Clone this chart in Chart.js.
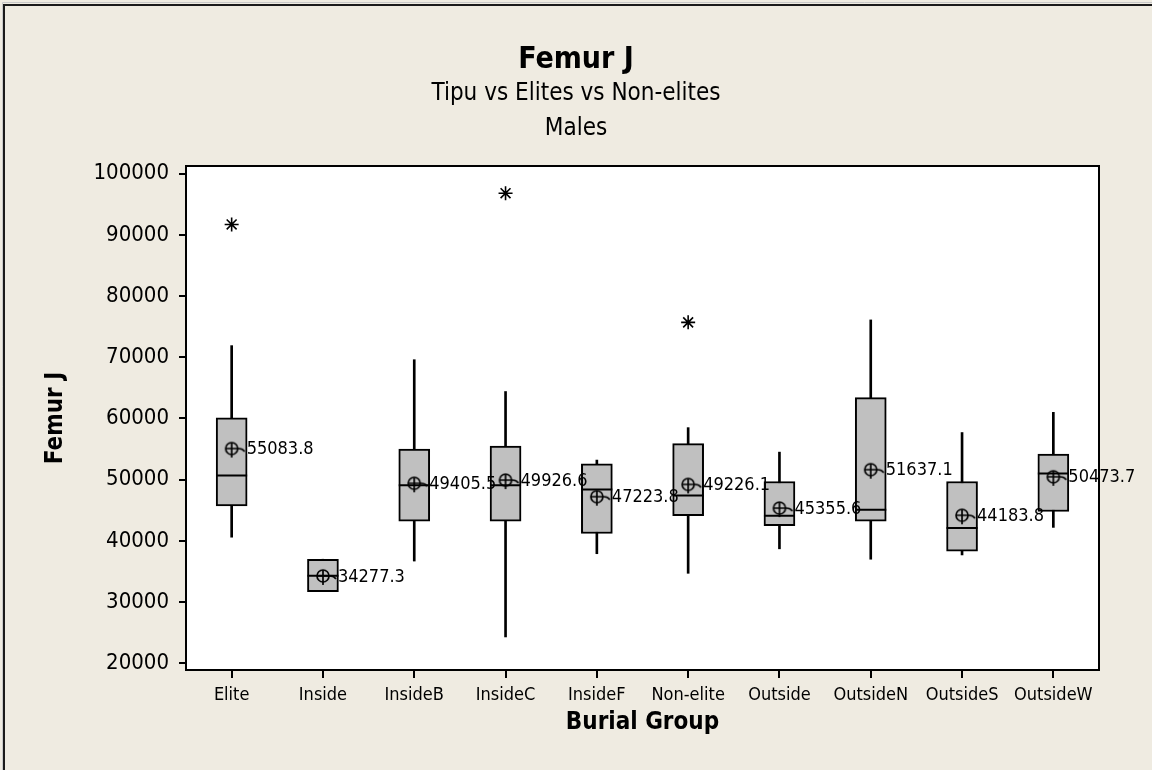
<!DOCTYPE html>
<html>
<head>
<meta charset="utf-8">
<script src="https://cdn.jsdelivr.net/npm/chart.js@4/dist/chart.umd.min.js"></script>
<style>
  html, body { margin: 0; padding: 0; background: #efebe1; }
  canvas { display: block; }
</style>
</head>
<body>
<canvas id="chart" width="1152" height="770"></canvas>
<script>
// values
const categories = ['Elite', 'Inside', 'InsideB', 'InsideC', 'InsideF', 'Non-elite', 'Outside', 'OutsideN', 'OutsideS', 'OutsideW'];
const whiskerLow  = [40600, 31700, 36700, 24300, 37900, 34700, 38700, 37000, 37700, 42200];
const q1          = [45700, 31700, 43200, 43200, 41200, 44100, 42500, 43200, 38300, 44800];
const medians     = [50700, 34300, 49100, 49100, 48400, 47400, 44100, 45100, 42100, 51000];
const q3          = [60100, 37000, 55000, 55500, 52600, 55900, 49700, 63400, 49700, 54200];
const whiskerHigh = [71900, 37000, 69600, 64400, 53200, 58500, 54500, 76100, 57700, 61000];
const means       = [55083.8, 34277.3, 49405.5, 49926.6, 47223.8, 49226.1, 45355.6, 51637.1, 44183.8, 50473.7];
const outliers    = [91700, null, null, 96800, null, 75700, null, null, null, null];
const yTicks      = [20000, 30000, 40000, 50000, 60000, 70000, 80000, 90000, 100000];
const yMin = 18900, yMax = 101250;

const FONT = '"DejaVu Sans Condensed", "DejaVu Sans", sans-serif';
Chart.defaults.color = '#000';
Chart.defaults.font.family = FONT;

// mean marker: circle with crosshair and a little tail towards the label
function meanGlyph() {
  const c = document.createElement('canvas');
  c.width = 40; c.height = 40;
  const g = c.getContext('2d');
  g.strokeStyle = '#000';
  g.lineWidth = 1.7;
  g.beginPath();
  g.arc(20, 20, 6, 0, Math.PI * 2);
  g.stroke();
  g.beginPath();
  g.moveTo(20, 14); g.lineTo(20, 29);
  g.moveTo(14, 20); g.lineTo(27, 20);
  g.quadraticCurveTo(31, 20, 33, 23);
  g.stroke();
  return c;
}

const framePlugin = {
  id: 'frame',
  beforeDraw(chart) {
    const { ctx, chartArea: a, width, height } = chart;
    ctx.save();
    ctx.fillStyle = '#efebe1';
    ctx.fillRect(0, 0, width, height);
    ctx.strokeStyle = '#c8c8c8';
    ctx.lineWidth = 1;
    ctx.beginPath();
    ctx.moveTo(2.5, height); ctx.lineTo(2.5, 2.5); ctx.lineTo(width, 2.5);
    ctx.stroke();
    ctx.strokeStyle = '#1a1a1a';
    ctx.lineWidth = 2;
    ctx.beginPath();
    ctx.moveTo(4, height); ctx.lineTo(4, 5); ctx.lineTo(width, 5);
    ctx.stroke();
    ctx.fillStyle = '#fff';
    ctx.fillRect(a.left, a.top, a.right - a.left, a.bottom - a.top);
    ctx.restore();
  },
  afterDatasetsDraw(chart) {
    const { ctx, chartArea: a } = chart;
    ctx.save();
    // mean labels
    const meta = chart.getDatasetMeta(3);
    ctx.font = '18px ' + FONT;
    ctx.fillStyle = '#000';
    ctx.textAlign = 'left';
    ctx.textBaseline = 'middle';
    meta.data.forEach((pt, i) => {
      ctx.fillText(means[i].toFixed(1), pt.x + 15, pt.y + 1);
    });
    ctx.strokeStyle = '#000';
    ctx.lineWidth = 2;
    ctx.strokeRect(a.left, a.top, a.right - a.left, a.bottom - a.top);
    ctx.restore();
  }
};

new Chart(document.getElementById('chart'), {
  type: 'bar',
  data: {
    labels: categories,
    datasets: [
      {
        label: 'whisker',
        data: categories.map((c, i) => [whiskerLow[i], whiskerHigh[i]]),
        backgroundColor: '#000',
        barThickness: 2,
        grouped: false,
        order: 3
      },
      {
        label: 'box',
        data: categories.map((c, i) => [q1[i], q3[i]]),
        backgroundColor: '#c0c0c0',
        borderColor: '#000',
        borderWidth: 2,
        borderSkipped: false,
        barThickness: 31,
        grouped: false,
        order: 2
      },
      {
        label: 'median',
        type: 'line',
        data: medians,
        showLine: false,
        pointStyle: 'line',
        pointRadius: 15.5,
        pointBorderWidth: 2,
        pointBorderColor: '#000',
        order: 1
      },
      {
        label: 'mean',
        type: 'line',
        data: means,
        showLine: false,
        pointStyle: meanGlyph(),
        order: 0
      },
      {
        label: 'outlier',
        type: 'line',
        data: outliers,
        showLine: false,
        pointStyle: 'star',
        pointRadius: 7,
        pointBorderWidth: 1.6,
        pointBorderColor: '#000',
        order: 0
      }
    ]
  },
  options: {
    responsive: false,
    animation: false,
    devicePixelRatio: 1,
    events: [],
    layout: { padding: 0 },
    plugins: {
      legend: { display: false },
      tooltip: { enabled: false },
      title: {
        display: true,
        text: 'Femur J',
        font: { size: 30, weight: 'bold', lineHeight: '32px' },
        padding: { top: 44, bottom: 0 }
      },
      subtitle: {
        display: true,
        text: ['Tipu vs Elites vs Non-elites', 'Males'],
        color: '#000',
        font: { size: 24, lineHeight: '35px' },
        padding: { top: 0, bottom: 20 }
      }
    },
    scales: {
      x: {
        offset: true,
        afterFit(s) { s.height = 100; },
        grid: { offset: false, drawOnChartArea: false, drawTicks: true, tickLength: 8, color: '#000', lineWidth: 2 },
        border: { display: false },
        ticks: { font: { size: 18 }, padding: 7, maxRotation: 0, autoSkip: false },
        title: {
          display: true,
          text: 'Burial Group',
          font: { size: 24, weight: 'bold' },
          padding: { top: 0, bottom: 33 }
        }
      },
      y: {
        min: yMin,
        max: yMax,
        afterFit(s) { s.width = 186; },
        afterBuildTicks(s) { s.ticks = yTicks.map(v => ({ value: v })); },
        grid: { drawOnChartArea: false, drawTicks: true, tickLength: 7, color: '#000', lineWidth: 2 },
        border: { display: false },
        ticks: { font: { size: 22 }, padding: 10, callback: v => String(v) },
        title: {
          display: true,
          text: 'Femur J',
          font: { size: 24, weight: 'bold' },
          padding: { top: 41, bottom: 0 }
        }
      },
      // empty right margin so the titles stay centred on the whole page
      margin: {
        type: 'linear',
        position: 'right',
        afterFit(s) { s.width = 53; },
        grid: { display: false },
        border: { display: false },
        ticks: { display: false }
      }
    }
  },
  plugins: [framePlugin]
});
</script>
</body>
</html>
